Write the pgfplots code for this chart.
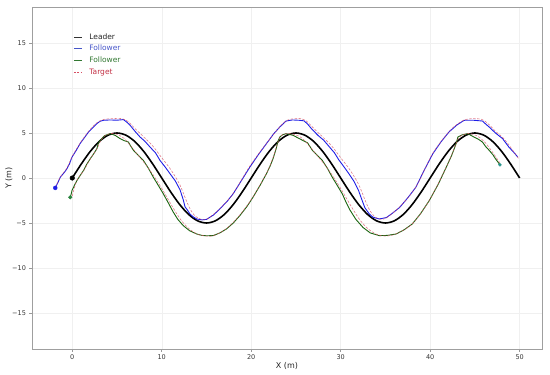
\documentclass[border=0pt]{standalone}
\usepackage{fontspec}
\setmainfont{DejaVu Sans}
\usepackage{pgfplots}
\pgfplotsset{compat=1.18}
\definecolor{fblue}{RGB}{30,30,230}
\definecolor{fgreen}{RGB}{25,100,15}
\definecolor{tred}{RGB}{215,80,100}
\definecolor{lgblue}{RGB}{70,85,200}
\definecolor{lggreen}{RGB}{50,120,50}
\definecolor{lgred}{RGB}{195,50,70}
\begin{document}
\begin{tikzpicture}
\begin{axis}[
  scale only axis, width=510pt, height=342pt,
  xmin=-4.5, xmax=52.5, ymin=-19, ymax=19,
  xtick={0,10,20,30,40,50},
  ytick={-15,-10,-5,0,5,10,15},
  yticklabels={−15,−10,−5,0,5,10,15},
  /pgf/number format/assume math mode=true,
  tick label style={font=\fontsize{6.5}{8}\selectfont, color=black!80},
  label style={font=\fontsize{8}{10}\selectfont, color=black!85},
  xlabel={X (m)}, ylabel={Y (m)},
  xlabel style={yshift=4pt},
  ylabel style={yshift=-7pt},
  tick pos=left, tick align=outside, major tick length=2.5pt,
  tick style={gray!80, line width=0.5pt},
  axis line style={gray!75, line width=0.9pt},
  grid=major, major grid style={gray!12, line width=0.4pt},
  legend style={draw=none, fill=none, at={(rel axis cs:0.075,0.935)}, anchor=north west,
    font=\fontsize{7.5}{9}\selectfont, row sep=0.6pt},
  legend cell align=left,
  legend image code/.code={\draw[#1] (0pt,0pt) -- (8.5pt,0pt); \path (13pt,0pt);},
]
\coordinate (bl) at (rel axis cs:0,0);
\coordinate (tr) at (rel axis cs:1,1);
\addlegendimage{black!80, line width=0.9pt}
\addlegendentry{\textcolor{black!85}{Leader}}
\addlegendimage{lgblue, line width=0.7pt}
\addlegendentry{\textcolor{lgblue}{Follower}}
\addlegendimage{lggreen, line width=0.7pt}
\addlegendentry{\textcolor{lggreen}{Follower}}
\addlegendimage{tred, dashed, dash pattern=on 2pt off 1.5pt, line width=0.6pt}
\addlegendentry{\textcolor{lgred}{Target}}

% Leader
\addplot[black, line width=1.6pt, smooth, forget plot] coordinates {
(0,0) (1,1.545) (2,2.939) (3,4.045) (4,4.755) (5,5) (6,4.755) (7,4.045) (8,2.939) (9,1.545) (10,0)
(11,-1.545) (12,-2.939) (13,-4.045) (14,-4.755) (15,-5) (16,-4.755) (17,-4.045) (18,-2.939) (19,-1.545) (20,0)
(21,1.545) (22,2.939) (23,4.045) (24,4.755) (25,5) (26,4.755) (27,4.045) (28,2.939) (29,1.545) (30,0)
(31,-1.545) (32,-2.939) (33,-4.045) (34,-4.755) (35,-5) (36,-4.755) (37,-4.045) (38,-2.939) (39,-1.545) (40,0)
(41,1.545) (42,2.939) (43,4.045) (44,4.755) (45,5) (46,4.755) (47,4.045) (48,2.939) (49,1.545) (50,0)
};
% Blue follower
\addplot[fblue, line width=0.9pt, forget plot] coordinates {
(-1.9,-1.1) (-1.6,-0.5) (-1.34,0.09) (-0.9,0.6) (-0.59,1.03) (-0.3,1.6) (-0.03,2.32) (0.4,3.0) (0.89,3.85) (1.3,4.4) (1.82,5.11) (2.3,5.6) (2.75,6.04) (3.1,6.3) (3.49,6.41) (4.2,6.45) (5.0,6.42) (5.72,6.49) (6.1,6.2) (6.47,5.85) (7.0,5.2) (7.58,4.55) (8.1,4.1) (8.70,3.43) (9.3,2.8) (9.81,1.95) (10.4,1.2) (10.93,0.47) (11.5,-0.3) (12.04,-1.3) (12.4,-2.4) (12.6,-3.2) (12.9,-3.6) (13.15,-4.0) (13.5,-4.3) (13.9,-4.55) (14.5,-4.65) (15.0,-4.6) (15.8,-4.1) (16.5,-3.43) (17.3,-2.6) (17.98,-1.76) (18.9,-0.3) (19.84,1.20) (20.8,2.6) (21.7,3.81) (22.5,4.9) (23.19,5.66) (23.9,6.33) (24.6,6.45) (25.4,6.41) (25.9,6.35)
(26.3,6.0) (26.8,5.4) (27.5,4.7) (28.1,4.2) (28.7,3.5) (29.3,2.8) (29.8,2.0) (30.4,1.2) (30.9,0.5) (31.5,-0.4) (32.0,-1.4) (32.4,-2.5) (32.7,-3.3) (33.2,-4.0) (33.6,-4.35) (34.3,-4.55) (35.1,-4.4) (35.8,-3.9) (36.6,-3.26) (37.5,-2.2) (38.4,-1.03) (39.3,0.8) (40.3,2.70) (41.2,4.0) (42.1,5.11) (43.0,5.9) (43.8,6.41) (44.8,6.42) (45.85,6.33) (46.2,6.0) (46.6,5.66) (47.3,5.0) (48.1,4.37) (48.8,3.43) (49.3,2.9) (49.8,2.32)
};
% Green follower
\addplot[fgreen, line width=0.9pt, forget plot] coordinates {
(-0.22,-2.14) (-0.1,-1.7) (-0.03,-1.39) (0.25,-0.8) (0.52,-0.28) (0.9,0.3) (1.26,0.84) (1.6,1.5) (2.01,2.14) (2.4,2.7) (2.75,3.26) (2.9,3.8) (3.12,4.18) (3.6,4.7) (4.24,4.93) (4.79,4.74) (5.35,4.37) (5.8,4.15) (6.28,3.99) (6.5,3.6) (6.84,3.07) (7.4,2.5) (7.95,1.95) (8.5,1.1) (9.06,0.09) (9.6,-0.8) (10.18,-1.76) (10.7,-2.7) (11.3,-3.81) (11.8,-4.6) (12.41,-5.30) (13.1,-5.85) (13.9,-6.22) (14.5,-6.38) (15.0,-6.42) (15.75,-6.4) (16.5,-6.1) (17.24,-5.66) (18.0,-5.0) (18.73,-4.18) (19.5,-3.2) (20.2,-2.14) (21.0,-0.8) (21.7,0.47) (22.1,1.3) (22.44,2.14) (22.8,3.3) (23.0,4.1) (23.19,4.55) (23.5,4.8) (23.9,4.93) (24.67,4.74) (25.4,4.37) (25.9,4.1) (26.3,3.9) (26.84,3.07) (27.4,2.5) (27.95,1.95) (28.5,1.1) (29.06,0.09) (29.6,-0.8) (30.18,-1.76) (30.6,-2.7) (31.0,-3.5) (31.7,-4.6) (32.5,-5.5) (33.3,-6.1) (34.3,-6.4) (35.2,-6.38) (36.2,-6.22) (37.1,-5.75) (38.0,-5.11) (38.9,-4.0) (39.9,-2.51) (40.9,-0.7) (41.8,1.20) (42.4,2.5) (42.9,3.81) (43.1,4.55) (43.6,4.8) (44.2,4.93) (44.9,4.55) (45.4,4.3) (45.85,3.99) (46.2,3.5) (46.6,3.07) (47.0,2.6) (47.3,2.14) (47.8,1.47)
};
% Targets
\addplot[tred, opacity=0.75, dash pattern=on 2.5pt off 1.5pt, line width=0.6pt, smooth, forget plot] coordinates {
(-1.9,-1.05) (-1.3,0.15) (-0.6,1.1) (0.0,2.4) (0.9,3.9) (1.8,5.15) (2.7,6.1) (3.5,6.5) (4.5,6.6) (5.5,6.6) (6.2,6.3) (7.0,5.5) (8.0,4.55) (9.0,3.55) (10.0,2.25) (11.0,0.95) (12.0,-0.7) (12.7,-2.4) (13.2,-3.5) (13.7,-4.2) (14.3,-4.55) (15.0,-4.6) (16.5,-3.4) (18.0,-1.7) (19.8,1.25) (21.7,3.85) (23.2,5.7) (23.9,6.35) (24.5,6.55) (25.5,6.6) (26.2,6.3) (27.0,5.5) (28.0,4.55) (29.0,3.55) (30.0,2.25) (31.0,0.95) (32.0,-0.7) (32.7,-2.4) (33.2,-3.5) (33.7,-4.2) (34.3,-4.55) (35.0,-4.5) (36.6,-3.2) (38.4,-1.0) (40.3,2.75) (42.1,5.15) (43.0,5.95) (43.8,6.45) (44.8,6.6) (45.8,6.5) (46.5,6.0) (47.3,5.2) (48.2,4.4) (49.0,3.4) (49.9,2.14)
};
\addplot[tred, opacity=0.75, dash pattern=on 2.5pt off 1.5pt, line width=0.6pt, smooth, forget plot] coordinates {
(0.0,-2.0) (0.5,-0.3) (1.3,0.85) (2.0,2.1) (2.8,3.3) (3.2,4.2) (3.7,4.75) (4.4,4.95) (5.0,4.85) (5.8,4.4) (6.5,3.6) (7.3,2.6) (8.2,1.5) (9.2,0.1) (10.2,-1.5) (11.2,-3.2) (12.1,-4.6) (13.0,-5.6) (14.0,-6.25) (15.0,-6.45) (15.8,-6.4) (17.2,-5.65) (18.7,-4.15) (20.2,-2.1) (21.7,0.5) (22.4,2.15) (23.2,4.5) (23.9,4.92) (24.6,4.9) (25.5,4.55) (26.3,3.8) (27.2,2.7) (28.2,1.5) (29.2,0.1) (30.2,-1.5) (31.2,-3.2) (32.1,-4.6) (33.0,-5.6) (34.0,-6.25) (35.0,-6.45) (36.2,-6.2) (38.0,-5.1) (39.9,-2.5) (41.8,1.2) (42.9,3.8) (43.2,4.5) (43.8,4.85) (44.4,4.95) (45.2,4.7) (46.0,4.1) (46.8,3.1) (47.5,2.1) (47.9,1.5)
};
% Markers
\addplot[only marks, mark=*, mark size=2pt, color=fblue, forget plot] coordinates {(-1.9,-1.1)};
\addplot[only marks, mark=*, mark size=2.3pt, color=black, forget plot] coordinates {(0,0)};
\addplot[only marks, mark=*, mark size=1.8pt, color={rgb,255:red,40;green,130;blue,60}, forget plot] coordinates {(-0.22,-2.14)};
\addplot[only marks, mark=*, mark size=1.5pt, color={rgb,255:red,40;green,150;blue,140}, forget plot] coordinates {(47.8,1.47)};
\end{axis}
\pgfresetboundingbox
\path ([shift={(-32pt,-25pt)}]bl) rectangle ([shift={(8pt,7pt)}]tr);
\end{tikzpicture}
\end{document}
